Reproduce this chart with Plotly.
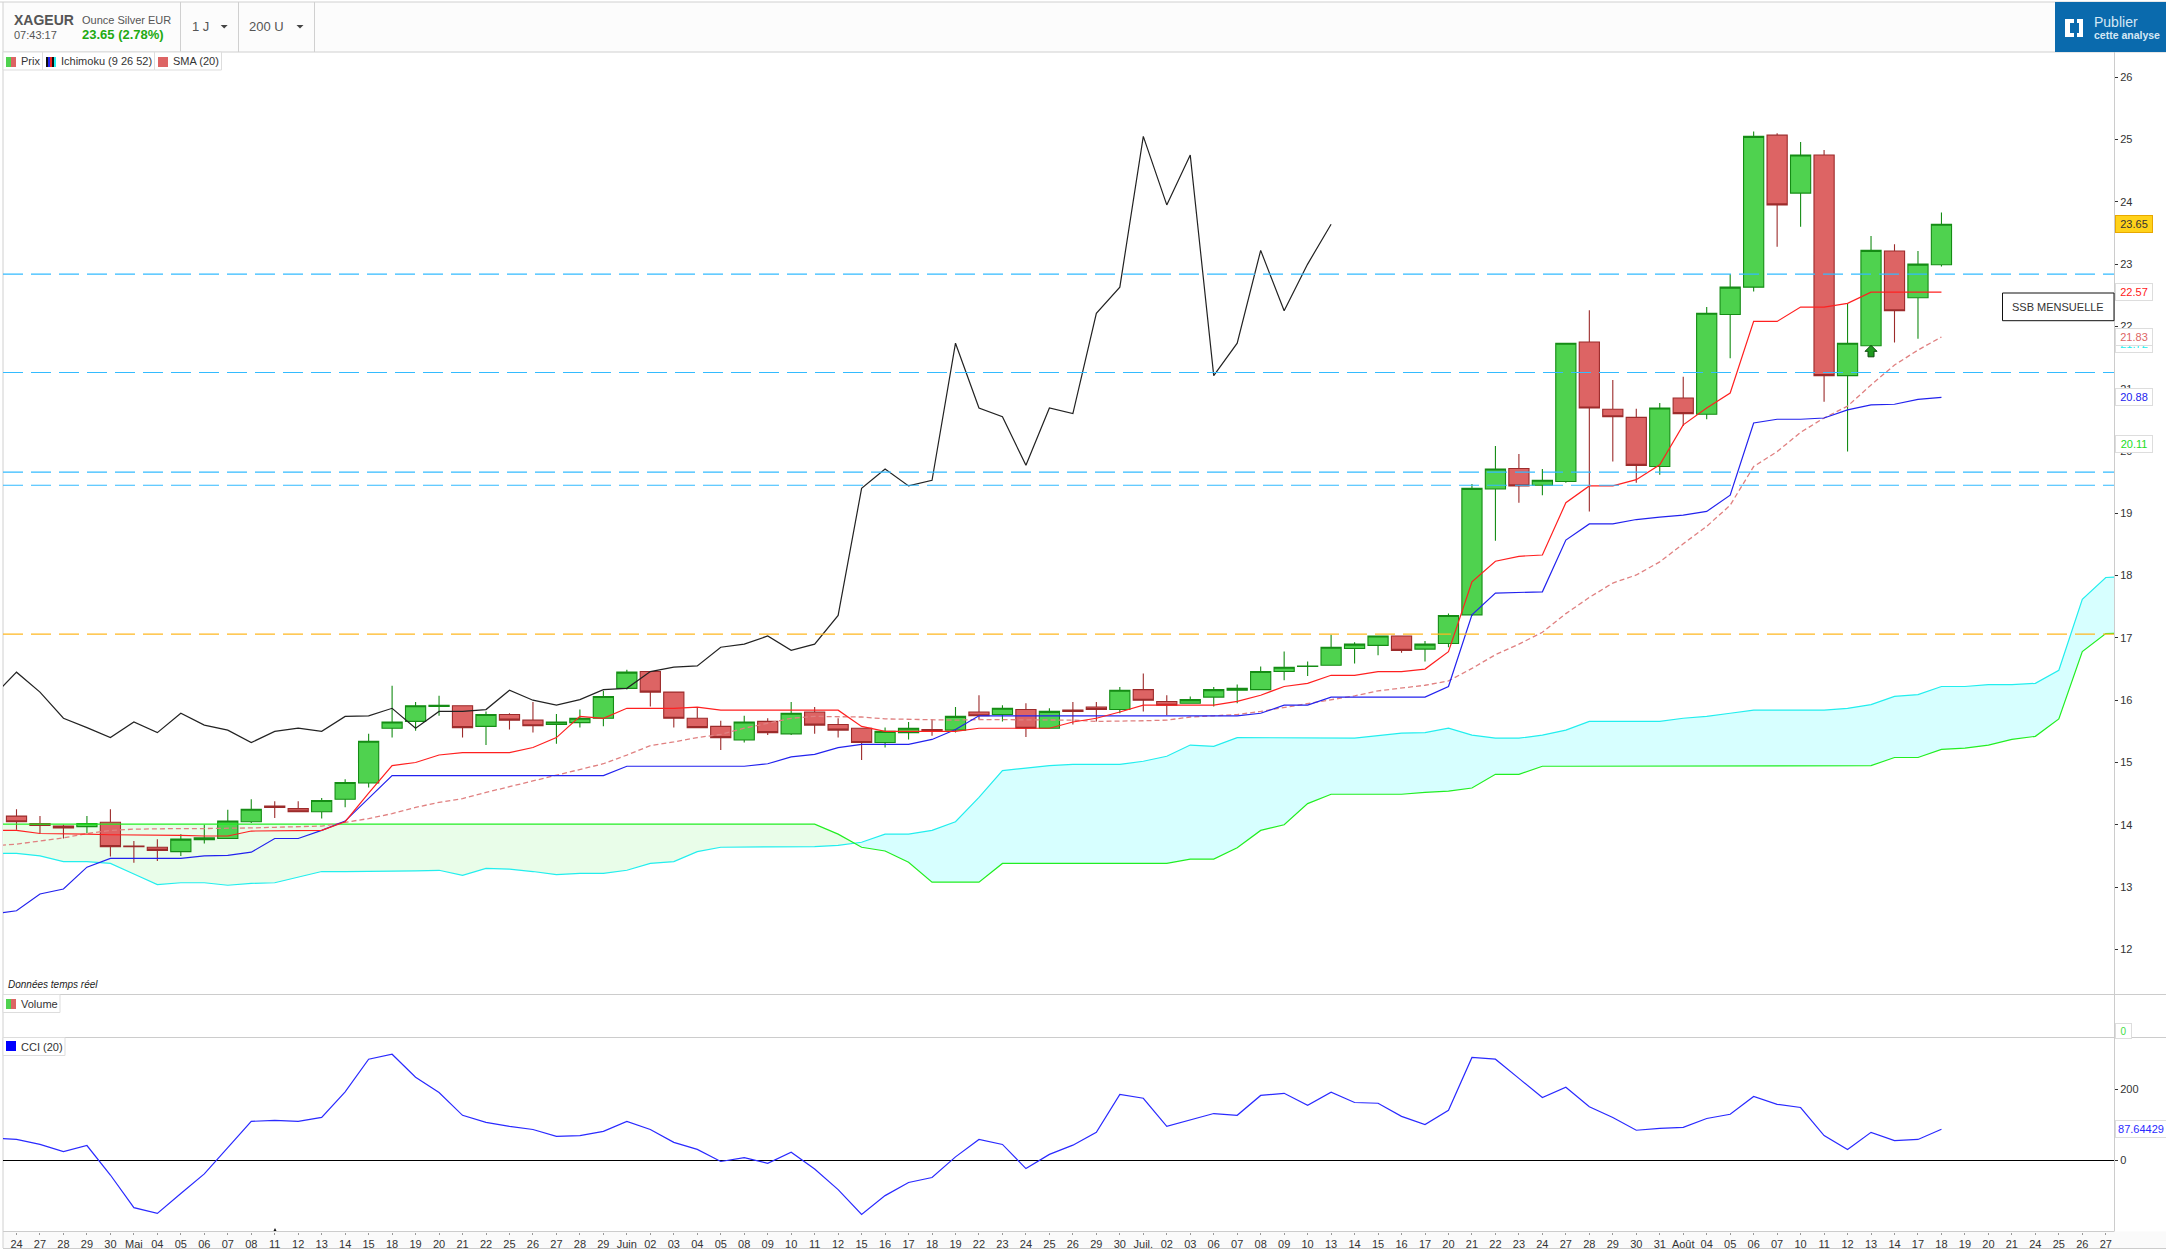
import plotly.graph_objects as go

W, H = 2166, 1251
FONT = "Liberation Sans"

tick_labels = ["24","27","28","29","30","Mai","04","05","06","07","08","11","12","13","14","15","18","19","20","21","22","25","26","27","28","29","Juin","02","03","04","05","08","09","10","11","12","15","16","17","18","19","22","23","24","25","26","29","30","Juil.","02","03","06","07","08","09","10","13","14","15","16","17","20","21","22","23","24","27","28","29","30","31","Août","04","05","06","07","10","11","12","13","14","17","18","19","20","21","24","25","26","27"]

open_ = [14.14,14.02,13.98,13.97,14.04,13.66,13.64,13.57,13.76,13.78,14.05,14.30,14.26,14.21,14.41,14.67,15.55,15.66,15.90,15.91,15.58,15.77,15.68,15.61,15.64,15.71,16.19,16.46,16.13,15.71,15.58,15.36,15.66,15.46,15.81,15.61,15.55,15.32,15.48,15.53,15.52,15.81,15.77,15.85,15.55,15.84,15.89,15.85,16.17,15.98,15.95,16.05,16.16,16.17,16.46,16.54,16.56,16.83,16.88,17.03,16.82,16.91,17.37,19.39,19.72,19.45,19.51,21.75,20.67,20.54,19.75,20.85,20.59,22.19,22.63,25.07,24.14,24.75,21.21,21.69,23.21,22.46,22.99]
high = [14.25,14.14,14.00,14.14,14.25,13.74,13.77,13.85,14.00,14.24,14.41,14.38,14.38,14.43,14.73,15.46,16.23,15.97,16.07,15.91,15.82,15.79,15.97,15.78,15.85,16.15,16.49,16.46,16.13,15.89,15.67,15.75,15.71,15.97,15.89,15.71,15.55,15.56,15.65,15.69,15.89,16.08,15.92,15.95,15.87,15.97,15.97,16.21,16.43,16.08,16.06,16.21,16.25,16.54,16.78,16.62,17.05,16.93,17.04,17.03,16.95,17.39,19.47,20.08,19.95,19.71,21.73,22.26,21.14,20.68,20.77,21.19,22.31,22.84,25.13,25.10,24.96,24.83,22.37,23.45,23.32,23.21,23.83]
low = [13.92,13.86,13.78,13.87,13.49,13.39,13.42,13.50,13.70,13.78,14.03,14.11,14.20,14.10,14.28,14.60,15.40,15.51,15.75,15.40,15.28,15.53,15.48,15.30,15.56,15.58,16.17,15.90,15.56,15.56,15.20,15.32,15.44,15.44,15.46,15.40,15.04,15.24,15.37,15.43,15.48,15.69,15.66,15.41,15.55,15.61,15.66,15.79,15.82,15.76,15.95,15.90,15.95,16.17,16.32,16.39,16.56,16.59,16.72,16.76,16.62,16.85,17.35,18.56,19.17,19.29,19.49,19.03,19.83,19.49,19.62,20.40,20.51,21.49,22.56,23.28,23.60,20.79,19.99,21.69,21.74,21.80,22.96]
close = [14.05,13.99,13.95,14.02,13.65,13.65,13.59,13.77,13.79,14.06,14.25,14.28,14.21,14.39,14.68,15.34,15.65,15.91,15.92,15.56,15.77,15.68,15.59,15.65,15.71,16.06,16.45,16.13,15.71,15.56,15.40,15.65,15.48,15.79,15.60,15.52,15.32,15.50,15.55,15.50,15.74,15.75,15.87,15.55,15.82,15.82,15.85,16.16,16.00,15.92,16.01,16.17,16.19,16.46,16.53,16.55,16.85,16.90,17.03,16.80,16.90,17.36,19.40,19.71,19.44,19.53,21.73,20.69,20.55,19.77,20.69,20.60,22.21,22.63,25.05,23.95,24.75,21.21,21.73,23.22,22.25,23.00,23.64]

chikou = [16.06,16.45,16.13,15.71,15.56,15.40,15.65,15.48,15.79,15.60,15.52,15.32,15.50,15.55,15.50,15.74,15.75,15.87,15.55,15.82,15.82,15.85,16.16,16.00,15.92,16.01,16.17,16.19,16.46,16.53,16.55,16.85,16.90,17.03,16.80,16.90,17.36,19.40,19.71,19.44,19.53,21.73,20.69,20.55,19.77,20.69,20.60,22.21,22.63,25.05,23.95,24.75,21.21,21.73,23.22,22.25,23.00,23.64]

tenkan = [13.91,13.91,13.86,13.86,13.85,13.84,13.84,13.83,13.83,13.82,13.82,13.90,13.90,13.90,13.91,14.05,14.51,14.95,15.00,15.12,15.16,15.16,15.16,15.24,15.40,15.74,15.71,15.87,15.87,15.87,15.89,15.84,15.84,15.84,15.84,15.84,15.84,15.58,15.50,15.50,15.50,15.50,15.55,15.55,15.55,15.55,15.65,15.71,15.81,15.92,15.92,15.92,15.92,15.98,16.08,16.22,16.27,16.40,16.40,16.46,16.46,16.50,16.78,17.90,18.23,18.31,18.33,19.17,19.44,19.44,19.54,19.78,20.42,20.69,20.93,22.08,22.08,22.31,22.31,22.37,22.55,22.55,22.55,22.55]

kijun = [12.57,12.62,12.89,12.97,13.32,13.46,13.46,13.46,13.46,13.50,13.51,13.56,13.78,13.78,13.91,14.06,14.43,14.79,14.79,14.79,14.79,14.79,14.79,14.79,14.79,14.79,14.79,14.94,14.94,14.94,14.94,14.94,14.94,14.98,15.09,15.13,15.24,15.29,15.29,15.29,15.37,15.53,15.75,15.75,15.75,15.75,15.75,15.75,15.75,15.75,15.75,15.75,15.75,15.75,15.79,15.92,15.92,16.05,16.05,16.05,16.05,16.05,16.22,17.37,17.72,17.73,17.74,18.57,18.83,18.83,18.90,18.94,18.97,19.03,19.29,20.45,20.51,20.51,20.53,20.66,20.74,20.75,20.83,20.86]

sma20 = [13.66,13.69,13.74,13.79,13.86,13.91,13.93,13.94,13.94,13.94,13.94,13.95,13.96,13.97,13.98,14.04,14.10,14.18,14.28,14.36,14.42,14.52,14.61,14.70,14.79,14.88,14.98,15.12,15.27,15.33,15.40,15.45,15.55,15.63,15.71,15.74,15.74,15.73,15.70,15.69,15.68,15.68,15.69,15.69,15.69,15.69,15.68,15.66,15.66,15.67,15.68,15.73,15.75,15.77,15.82,15.88,15.94,16.01,16.07,16.15,16.20,16.24,16.31,16.51,16.73,16.90,17.09,17.39,17.65,17.88,18.01,18.22,18.51,18.79,19.13,19.75,19.99,20.30,20.53,20.72,21.06,21.38,21.62,21.83]

senkou_a = [13.54,13.54,13.50,13.41,13.41,13.38,13.21,13.04,13.07,13.07,13.03,13.06,13.07,13.16,13.25,13.25,13.25,13.25,13.26,13.27,13.19,13.30,13.29,13.25,13.20,13.22,13.22,13.27,13.38,13.41,13.57,13.64,13.64,13.64,13.64,13.65,13.67,13.72,13.85,13.85,13.91,14.05,14.44,14.87,14.91,14.95,14.97,14.97,14.97,15.02,15.10,15.28,15.26,15.40,15.40,15.40,15.40,15.39,15.39,15.43,15.47,15.48,15.55,15.44,15.39,15.39,15.44,15.52,15.66,15.66,15.66,15.66,15.71,15.74,15.79,15.84,15.84,15.84,15.84,15.87,15.93,16.06,16.09,16.22,16.22,16.25,16.25,16.27,16.48,17.62,17.97,17.99]

senkou_b = [14.01,14.01,14.01,14.01,14.01,14.01,14.01,14.01,14.01,14.01,14.01,14.01,14.01,14.01,14.01,14.01,14.01,14.01,14.01,14.01,14.01,14.01,14.01,14.01,14.01,14.01,14.01,14.01,14.01,14.01,14.01,14.01,14.01,14.01,14.01,14.01,13.85,13.64,13.58,13.40,13.08,13.08,13.08,13.38,13.38,13.38,13.38,13.38,13.38,13.38,13.38,13.45,13.45,13.63,13.91,14.00,14.34,14.49,14.49,14.49,14.49,14.52,14.54,14.59,14.81,14.81,14.94,14.94,14.94,14.94,14.94,14.94,14.94,14.94,14.94,14.94,14.94,14.94,14.94,14.94,14.95,15.08,15.08,15.21,15.23,15.28,15.37,15.42,15.70,16.78,17.07,17.08]

cci = [62.9,59.2,45,25,42,-41,-133,-149,-93,-38,36,110,113,110,121,193,285,299,234,191,127,107,96,87,68,70,82,110,87,51,31,-3,8,-8,23,-24,-82,-152,-99,-62,-48,10,59,45,-23,17,43,79,186,175,96,115,132,127,183,189,155,192,163,161,124,101,141,290,285,231,177,206,151,121,85,90,93,118,130,180,158,149,70,31,79,56,59,87.64429]

levels_blue = [22.84, 21.26, 19.66, 19.45]
level_orange = [17.06]
price_tags = [("21.72", 21.72, "#22eeee"), ("22.57", 22.55, "#ff2020"), ("21.83", 21.83, "#dd6464"), ("20.88", 20.87, "#2222ee"), ("20.11", 20.11, "#22dd22")]
signal_x, signal_y = 79, 21.6

def X(p): return p / W
def Y(p): return 1 - p / H

GREEN, GREEN_D = "#4fd24f", "#158c15"
RED, RED_D = "#dd6464", "#9c2b2b"
idx = list(range(-1, 91))
xr = [(3 - 16.5) / 23.475, (2114 - 16.5) / 23.475]
yr = [19 - (994.5 - 513.3) / 62.3, 19 + (513.3 - 52) / 62.3]
x_line = list(range(-1, 83))

fig = go.Figure()

# Cloud fills, on the base axis so that the candles of the overlay axis cover them
ca, cb = senkou_a, senkou_b
k = next(i for i in range(len(ca)) if ca[i] > cb[i])
t = (cb[k-1] - ca[k-1]) / ((cb[k-1] - ca[k-1]) + (ca[k] - cb[k]))
xc = idx[k-1] + t
yc = ca[k-1] + t * (ca[k] - ca[k-1])
fig.add_trace(go.Scatter(x=idx[:k] + [xc] + idx[:k][::-1], y=cb[:k] + [yc] + ca[:k][::-1], fill="toself",
                         fillcolor="#e9fde9", mode="none", hoverinfo="skip"))
fig.add_trace(go.Scatter(x=[xc] + idx[k:] + idx[k:][::-1], y=[yc] + ca[k:] + cb[k:][::-1], fill="toself",
                         fillcolor="#d7ffff", mode="none", hoverinfo="skip"))

fig.add_trace(go.Candlestick(x=list(range(len(close))), open=open_, high=high, low=low, close=close,
                             whiskerwidth=0, yaxis="y3",
                             increasing=dict(fillcolor=GREEN, line=dict(color=GREEN_D, width=1.1)),
                             decreasing=dict(fillcolor=RED, line=dict(color=RED_D, width=1.1)),
                             hoverinfo="skip"))

def line(x, y, color, width=1.2, dash=None, yaxis="y3"):
    fig.add_trace(go.Scatter(x=x, y=y, mode="lines", yaxis=yaxis, hoverinfo="skip",
                             line=dict(color=color, width=width, dash=dash)))

line(idx, senkou_a, "#22eeee")
line(idx, senkou_b, "#22ee22")
line(x_line, sma20, "#e08080", 1.3, "5px,3px")
line(x_line, kijun, "#2222ee")
line(x_line, tenkan, "#ff2020")
line(list(range(-1, 57)), chikou, "#222222", 1.2)
for lv in levels_blue:
    line(xr, [lv, lv], "#33bbff", 1.2, "20px,8px")
line(xr, level_orange * 2, "#ffb820", 1.2, "20px,8px")

line(x_line, cci, "#2a2aff", 1.2, yaxis="y2")

# Page furniture
shapes = []
def rect(x0, y0, x1, y1, fill, border=None, layer="below", w=1):
    shapes.append(dict(type="rect", xref="paper", yref="paper", x0=X(x0), x1=X(x1), y0=Y(y0), y1=Y(y1),
                       fillcolor=fill, line=dict(color=border or fill, width=w if border else 0), layer=layer))
def seg(x0, y0, x1, y1, color="#d0d0d0", w=1, layer="below"):
    shapes.append(dict(type="line", xref="paper", yref="paper", x0=X(x0), x1=X(x1), y0=Y(y0), y1=Y(y1),
                       line=dict(color=color, width=w), layer=layer))
def poly(pts, fill):
    d = "M" + " L".join(f"{X(a):.5f},{Y(b):.5f}" for a, b in pts) + " Z"
    shapes.append(dict(type="path", xref="paper", yref="paper", path=d, fillcolor=fill, line=dict(width=0), layer="above"))

rect(3, 2, 2055, 52, "#fcfcfc")
rect(3, 1231.5, 2166, 1248, "#fafafa")
seg(0, 2, 2166, 2)
seg(3, 52, 2166, 52)
seg(3, 2, 3, 1248)
for xp in (180.5, 238.5, 314.5):
    seg(xp, 2, xp, 52)
seg(3, 994.5, 2166, 994.5, "#cccccc", 1, "above")
seg(3, 1037.5, 2166, 1037.5, "#cccccc", 1, "above")
seg(3, 1231.5, 2114, 1231.5, "#cccccc")
seg(3, 1248.5, 2166, 1248.5, "#cccccc")
seg(2114.5, 52, 2114.5, 1231.5, "#cccccc", 1, "above")
rect(2055, 2, 2166, 52, "#0a6aad", layer="above")
poly([(2065, 19), (2074, 19), (2074, 23), (2070, 23), (2070, 33), (2074, 33), (2074, 37), (2065, 37)], "#ffffff")
poly([(2077, 19), (2083, 19), (2083, 37), (2077, 37), (2077, 33), (2079, 33), (2079, 23), (2077, 23)], "#ffffff")
poly([(220.7, 25), (227.7, 25), (224.2, 28.5)], "#444444")
poly([(296.5, 25), (303.5, 25), (300, 28.5)], "#444444")
poly([(273.5, 1231), (276.5, 1231), (275, 1228)], "#111111")

# Signal arrow, anchored to its data position and sized in pixels
shapes.append(dict(type="path", xref="x", yref="y3", xsizemode="pixel", ysizemode="pixel",
                   xanchor=signal_x, yanchor=signal_y, path="M0,6 L6,0 L3,0 L3,-5.5 L-3,-5.5 L-3,0 L-6,0 Z",
                   fillcolor="#1f9a1f", line=dict(color="#0c4a0c", width=1), layer="above"))

# Legend boxes
rect(3, 52, 42.5, 70, "#ffffff", "#dddddd", "above")
rect(42.5, 52, 154.5, 70, "#ffffff", "#dddddd", "above")
rect(154.5, 52, 221.5, 70, "#ffffff", "#dddddd", "above")
rect(3, 994.5, 60, 1012.5, "#ffffff", "#dddddd", "above")
rect(3, 1037.5, 65, 1055.5, "#ffffff", "#dddddd", "above")
for y0 in (57, 999):
    rect(6, y0, 11, y0 + 10, GREEN, layer="above")
    rect(11, y0, 16, y0 + 10, RED, layer="above")
for i, c in enumerate(["#111111", "#2222ee", "#ee2222", "#111111", "#22eeee"]):
    rect(46 + 2 * i, 57, 48 + 2 * i, 67, c, layer="above")
rect(158, 57, 168, 67, RED, layer="above")
rect(6, 1041, 16, 1051, "#0000ff", layer="above")

ann = []
def txt(x, y, s, size=11, color="#333333", anchor="left"):
    ann.append(dict(xref="paper", yref="paper", x=X(x), y=Y(y), text=s, showarrow=False, xanchor=anchor,
                    yanchor="middle", borderpad=0, font=dict(family=FONT, size=size, color=color)))

txt(13, 19.5, "<b>XAGEUR</b>", 14, "#555555")
txt(13, 35, "07:43:17", 11, "#555555")
txt(80.5, 19.5, "Ounce Silver EUR", 11, "#555555")
txt(80.5, 35, "<b>23.65 (2.78%)</b>", 13, "#22aa11")
txt(191, 27, "1 J", 13, "#555555")
txt(248, 27, "200 U", 13, "#555555")
txt(20.3, 61, "Prix")
txt(60, 61, "Ichimoku (9 26 52)")
txt(172, 61, "SMA (20)")
txt(20, 1003.5, "Volume")
txt(20, 1046.5, "CCI (20)")
txt(7.3, 985, "<i>Données temps réel</i>", 10, "#222222")
txt(2093, 22, "Publier", 14, "#d5e8f5")
txt(2093, 34.5, "<b>cette analyse</b>", 10.5, "#d5e8f5")

def tag(y, yref, s, color, bg="#ffffff", border="#dddddd", width=34):
    ann.append(dict(xref="paper", yref=yref, x=X(2114.5), y=y, text=s, showarrow=False, xanchor="left", yanchor="middle",
                    bgcolor=bg, bordercolor=border, borderwidth=1, borderpad=1, width=width, height=14,
                    font=dict(family=FONT, size=11, color=color)))

for s, v, c in price_tags:
    tag(v, "y", s, c)
tag(23.65, "y", "23.65", "#333333", "#ffd21a", "#e8a800")
tag(87.64429, "y2", "87.64429", "#2a2aff", width=48)
ann.append(dict(xref="paper", yref="paper", x=X(2114.5), y=Y(1031), text="0", showarrow=False, xanchor="left", yanchor="middle",
                bgcolor="#ffffff", bordercolor="#dddddd", borderwidth=1, borderpad=1, width=13, height=12,
                font=dict(family=FONT, size=10, color="#44dd44")))

# SSB box
rect(2002.5, 293, 2114, 320.7, "#ffffff", "#111111", "above")
txt(2011, 307, "SSB MENSUELLE", 11, "#333333")

fig.update_layout(
    width=W, height=H, margin=dict(l=0, r=0, t=0, b=0), autosize=False,
    paper_bgcolor="#ffffff", plot_bgcolor="#ffffff", showlegend=False,
    boxgap=0.14, boxgroupgap=0, dragmode=False, hovermode=False,
    shapes=shapes, annotations=ann,
    xaxis=dict(domain=[X(3), X(2114)], range=xr, anchor="y2", rangeslider=dict(visible=False),
               tickmode="array", tickvals=list(range(len(tick_labels))), ticktext=tick_labels,
               tickangle=0, ticks="outside", ticklen=2, tickwidth=1, tickcolor="#999999", showgrid=False, zeroline=False,
               showline=False, tickfont=dict(family=FONT, size=11, color="#333333")),
    yaxis=dict(domain=[Y(994.5), Y(52)], range=yr,
               side="right", anchor="x", tickmode="array", tickvals=list(range(12, 27)),
               ticks="outside", ticklen=3, tickwidth=1, tickcolor="#333333", showgrid=False, zeroline=False, showline=False,
               tickfont=dict(family=FONT, size=11, color="#333333")),
    yaxis3=dict(overlaying="y", range=yr, side="right", anchor="x", showticklabels=False, ticks="",
                showgrid=False, zeroline=False, showline=False),
    yaxis2=dict(domain=[Y(1231.5), Y(1037.5)], range=[-200, 346], side="right", anchor="x",
                tickmode="array", tickvals=[0, 200], ticks="outside", ticklen=3, tickwidth=1, tickcolor="#333333",
                showgrid=False, zeroline=True, zerolinecolor="#000000", zerolinewidth=1, showline=False,
                tickfont=dict(family=FONT, size=11, color="#333333")),
)

fig.write_html("out.html", config=dict(displayModeBar=False, staticPlot=True),
               post_script="document.body.style.margin='0';document.body.style.overflow='hidden';document.documentElement.style.overflow='hidden';")
